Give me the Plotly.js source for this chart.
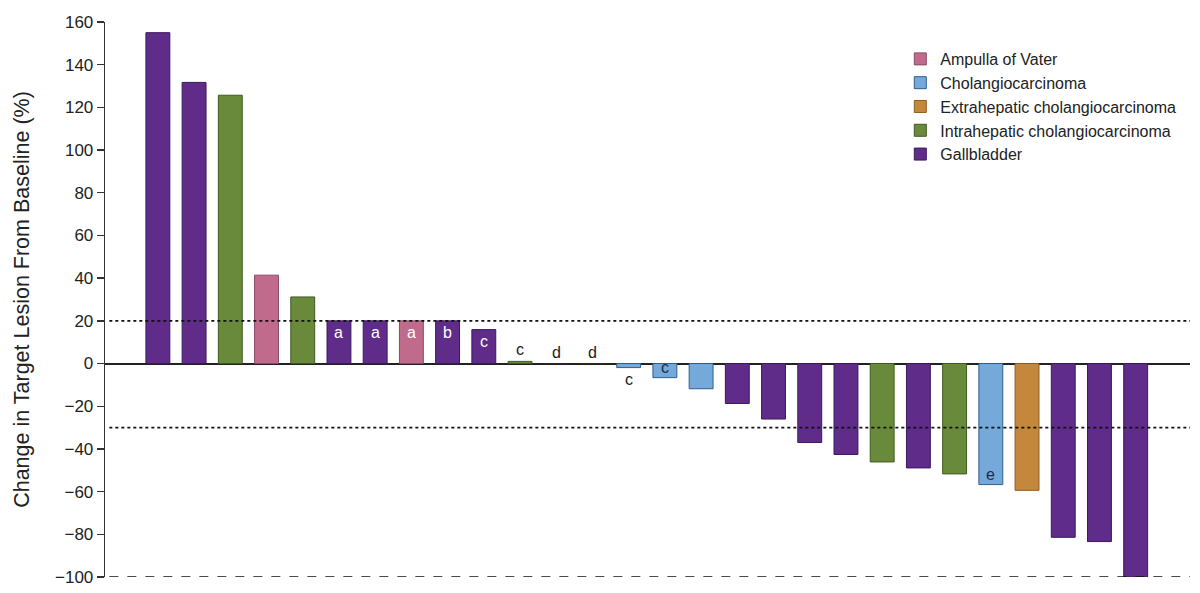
<!DOCTYPE html>
<html>
<head>
<meta charset="utf-8">
<script src="https://cdn.plot.ly/plotly-3.0.1.min.js"></script>
<style>
  html, body { margin: 0; padding: 0; background: #fff; }
  #chart { width: 1200px; height: 593px; }
</style>
</head>
<body>
<div id="chart"></div>
<script>
// one entry per patient, ordered as in the waterfall
const tumorTypes = [
  'Gallbladder', 'Gallbladder', 'Intrahepatic cholangiocarcinoma', 'Ampulla of Vater',
  'Intrahepatic cholangiocarcinoma', 'Gallbladder', 'Gallbladder', 'Ampulla of Vater',
  'Gallbladder', 'Gallbladder', 'Intrahepatic cholangiocarcinoma', 'Gallbladder',
  'Gallbladder', 'Cholangiocarcinoma', 'Cholangiocarcinoma', 'Cholangiocarcinoma',
  'Gallbladder', 'Gallbladder', 'Gallbladder', 'Gallbladder',
  'Intrahepatic cholangiocarcinoma', 'Gallbladder', 'Intrahepatic cholangiocarcinoma', 'Cholangiocarcinoma',
  'Extrahepatic cholangiocarcinoma', 'Gallbladder', 'Gallbladder', 'Gallbladder'
];
const changes = [
  155, 131.7, 125.7, 41.4, 31.2, 20, 20, 20, 20, 15.9, 1, 0, 0, -1.9,
  -6.6, -11.8, -18.7, -26, -37, -42.6, -46.1, -48.9, -51.7, -56.7, -59.4, -81.4, -83.4, -100
];
const footnotes = [
  '', '', '', '', '', 'a', 'a', 'a', 'b', 'c', 'c', 'd', 'd', 'c',
  'c', '', '', '', '', '', '', '', '', 'e', '', '', '', ''
];

const categories = [
  'Ampulla of Vater', 'Cholangiocarcinoma', 'Extrahepatic cholangiocarcinoma',
  'Intrahepatic cholangiocarcinoma', 'Gallbladder'
];
const fillColors = ['#c06b8b', '#74a9da', '#c3883b', '#6a8a3b', '#5f2c8a'];
const edgeColors = ['#8a4a66', '#2d5f8e', '#8c5c24', '#3f5a22', '#3a1a5c'];
const labelColors = ['#ffffff', '#1c2c4c', '#1c2c4c', '#1c1c1c', '#ffffff'];

const positions = changes.map(function (v, i) { return i; });

const traces = categories.map(function (cat, k) {
  const idx = positions.filter(function (i) { return tumorTypes[i] === cat; });
  return {
    type: 'bar',
    name: cat,
    x: idx,
    y: idx.map(function (i) { return changes[i]; }),
    width: 0.66,
    marker: { color: fillColors[k], line: { color: edgeColors[k], width: 1 } },
    hoverinfo: 'x+y'
  };
});

// footnote letters: inside the bar when it is tall enough, else just outside
const annotations = [];
footnotes.forEach(function (note, i) {
  if (!note) return;
  const v = changes[i];
  const k = categories.indexOf(tumorTypes[i]);
  const inside = Math.abs(v) >= 5;
  annotations.push({
    x: i,
    y: v,
    text: note,
    showarrow: false,
    xanchor: 'center',
    yanchor: inside ? (v > 0 ? 'top' : 'bottom') : (v >= 0 ? 'bottom' : 'top'),
    yshift: inside ? (v > 0 ? -1 : 0) : (v >= 0 ? 1 : -1),
    font: { size: 16, color: inside ? labelColors[k] : '#1c1c1c' }
  });
});

const refLines = [
  { y: 20, dash: 'dot' },
  { y: -30, dash: 'dot' },
  { y: -100, dash: 'dash' }
];
const shapes = refLines.map(function (r) {
  return {
    type: 'line', xref: 'paper', yref: 'y',
    x0: 0.004, x1: 1, y0: r.y, y1: r.y,
    line: { color: '#111', width: 1.6, dash: r.dash },
    layer: 'above'
  };
});

const layout = {
  width: 1200,
  height: 593,
  margin: { l: 105, r: 10, t: 22, b: 16 },
  paper_bgcolor: '#fff',
  plot_bgcolor: '#fff',
  font: { family: 'Liberation Sans, Arial, sans-serif', color: '#222' },
  barmode: 'overlay',
  showlegend: true,
  legend: {
    x: 0.733, y: 0.964, xanchor: 'left', yanchor: 'top',
    font: { size: 16, color: '#222' },
    bgcolor: 'rgba(0,0,0,0)',
    itemwidth: 30,
    traceorder: 'normal'
  },
  xaxis: {
    range: [-1.46, 28.5],
    visible: false,
    fixedrange: true
  },
  yaxis: {
    range: [-100, 160],
    tickvals: [-100, -80, -60, -40, -20, 0, 20, 40, 60, 80, 100, 120, 140, 160],
    ticks: 'outside',
    ticklen: 7,
    tickwidth: 1.3,
    tickcolor: '#333',
    showline: true,
    linecolor: '#333',
    linewidth: 1.3,
    showgrid: false,
    zeroline: true,
    zerolinecolor: '#222',
    zerolinewidth: 2,
    tickfont: { size: 17, color: '#222' },
    title: {
      text: 'Change in Target Lesion From Baseline (%)',
      font: { size: 21.5, color: '#222' },
      standoff: 19
    },
    fixedrange: true
  },
  shapes: shapes,
  annotations: annotations
};

Plotly.newPlot('chart', traces, layout, { displayModeBar: false, staticPlot: true });
</script>
</body>
</html>
